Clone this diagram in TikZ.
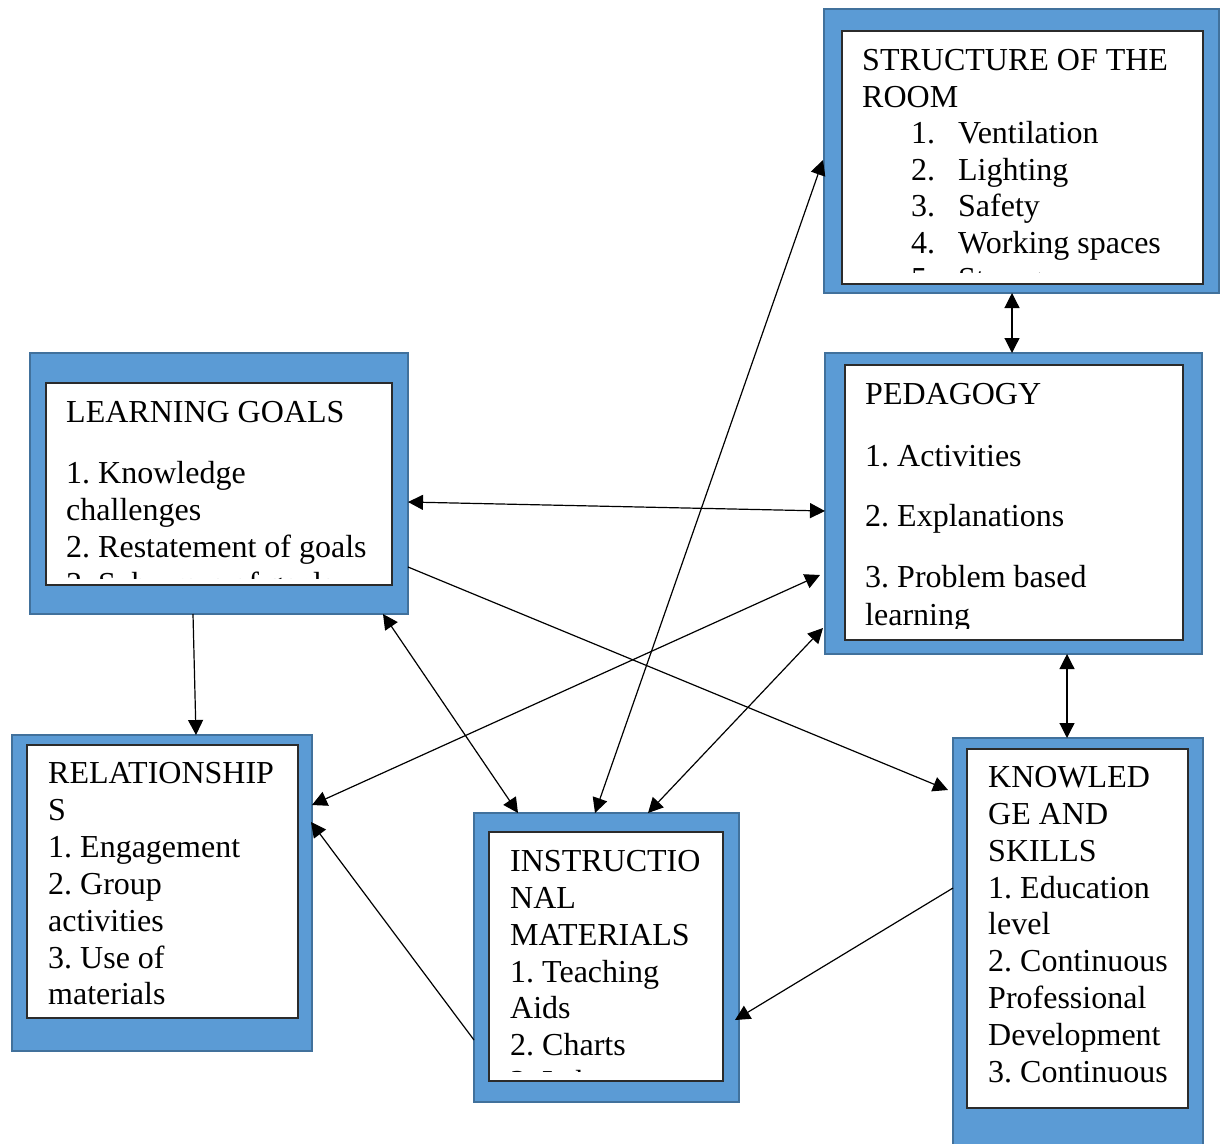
\documentclass[tikz,border=0pt]{standalone}
\usepackage{fontspec}
\setmainfont{Liberation Serif}
\usetikzlibrary{arrows.meta,calc}
\definecolor{boxblue}{HTML}{5B9BD5}
\definecolor{boxedge}{HTML}{41719C}
\definecolor{inedge}{HTML}{2B2B2B}
\newcommand\numit[2]{\makebox[47pt][l]{#1}#2}
\frenchspacing
\begin{document}
\begin{tikzpicture}[x=1pt,y=-1pt,
  outerbox/.style={draw=boxedge,line width=1.5pt,fill=boxblue,inner sep=0pt,outer sep=0pt},
  innerbox/.style={draw=inedge,line width=1.5pt,fill=white,inner sep=0pt,outer sep=0pt},
  lbl/.style={anchor=base west,inner sep=0pt,font=\fontsize{32}{36.5}\selectfont},
  conn/.style={line width=1.2pt,draw=black},
  tip/.tip={Triangle[length=15pt,width=15pt]},
  both/.style={conn,tip-tip},
  one/.style={conn,-tip}]
\useasboundingbox (0,0) rectangle (1225,1143);

% outer blue frames
\node[outerbox,minimum width=395pt,minimum height=284pt] (str) at (1021.5,151) {};
\node[outerbox,minimum width=377pt,minimum height=301pt] (ped) at (1013.5,503.5) {};
\node[outerbox,minimum width=378pt,minimum height=261pt] (lg)  at (219,483.5) {};
\node[outerbox,minimum width=300pt,minimum height=316pt] (rel) at (162,893) {};
\node[outerbox,minimum width=265pt,minimum height=289pt] (ins) at (606.5,957.5) {};
\node[outerbox,minimum width=250pt,minimum height=422pt] (kno) at (1078,949) {};

% inner white panels
\node[innerbox,minimum width=361pt,minimum height=253pt] (strin) at (1022.5,157.5) {};
\node[innerbox,minimum width=338pt,minimum height=275pt] (pedin) at (1014,502.5) {};
\node[innerbox,minimum width=346pt,minimum height=202pt] (lgin)  at (219,484) {};
\node[innerbox,minimum width=271pt,minimum height=273pt] (relin) at (162.5,881.5) {};
\node[innerbox,minimum width=234pt,minimum height=249pt] (insin) at (606,956.5) {};
\node[innerbox,minimum width=221pt,minimum height=359pt] (knoin) at (1077.5,928.5) {};

% texts
\begin{scope}
  \clip (strin.north west) rectangle ([yshift=12pt]strin.south east);
  \node[lbl] (s1) at (862,70.5) {STRUCTURE OF THE};
  \node[lbl] (s2) at (862,107) {ROOM};
  \foreach \lineY/\lineT [count=\i] in {143.5/{\numit{1.}{Ventilation}},180/{\numit{2.}{Lighting}},216.5/{\numit{3.}{Safety}},253/{\numit{4.}{Working spaces}},289.5/{\numit{5.}{Storage}}}
    \node[lbl] (sl\i) at (911,\lineY) {\lineT};
\end{scope}

\begin{scope}
  \clip (lgin.north west) rectangle ([yshift=7pt]lgin.south east);
  \foreach \lineY/\lineT [count=\i] in {422/LEARNING GOALS,483/1. Knowledge,520/challenges,557/2. Restatement of goals,594/3. Sub-areas of goals}
    \node[lbl] (lgl\i) at (66,\lineY) {\lineT};
\end{scope}

\begin{scope}
  \clip (pedin.north west) rectangle ([yshift=12pt]pedin.south east);
  \foreach \lineY/\lineT [count=\i] in {404/PEDAGOGY,466/1. Activities,526/2. Explanations,587/3. Problem based,625/learning}
    \node[lbl] (pl\i) at (865,\lineY) {\lineT};
\end{scope}

\begin{scope}
  \clip (relin.north west) rectangle (relin.south east);
  \foreach \lineY/\lineT [count=\i] in {783/RELATIONSHIP,820/S,857/1. Engagement,894/2. Group,931/activities,968/3. Use of,1004/materials}
    \node[lbl] (rl\i) at (48,\lineY) {\lineT};
\end{scope}

\begin{scope}
  \clip (insin.north west) rectangle ([yshift=10pt]insin.south east);
  \foreach \lineY/\lineT [count=\i] in {871/INSTRUCTIO,908/NAL,945/MATERIALS,982/1. Teaching,1018/Aids,1055/2. Charts,1092/3. Laboratory}
    \node[lbl] (il\i) at (510,\lineY) {\lineT};
\end{scope}

\begin{scope}
  \clip (knoin.north west) rectangle (knoin.south east);
  \foreach \lineY/\lineT [count=\i] in {787/KNOWLED,824/GE AND,861/SKILLS,898/1. Education,934/level,971/2. Continuous,1008/Professional,1045/Development,1082/3. Continuous}
    \node[lbl] (kl\i) at (988,\lineY) {\lineT};
\end{scope}

% connectors
\draw[both] ([xshift=-9.5pt]str.south) -- ([xshift=-1.5pt]ped.north);
\draw[both] ([yshift=-18.5pt]lg.east) -- ([yshift=-7.5pt]ped.west);
\draw[one]  ([yshift=-83.5pt]lg.east) -- ([xshift=-5pt,yshift=159pt]kno.west);
\draw[one]  ([xshift=-26pt]lg.south) -- ([xshift=34pt]rel.north);
\draw[both] ([xshift=164pt]lg.south) -- ([xshift=-88.5pt]ins.north);
\draw[both] ([xshift=-5pt,yshift=-71.5pt]ped.west) -- ([yshift=88pt]rel.east);
\draw[both] ([xshift=-1pt,yshift=-9pt]str.west) -- ([xshift=-11.5pt]ins.north);
\draw[both] ([xshift=-2pt,yshift=-124.5pt]ped.west) -- ([xshift=41.5pt]ins.north);
\draw[both] ([xshift=53.5pt]ped.south) -- ([xshift=-11pt]kno.north);
\draw[one]  ([yshift=61pt]kno.west) -- ([xshift=-4pt,yshift=-62.5pt]ins.east);
\draw[one]  ([yshift=-82.5pt]ins.west) -- ([xshift=-1pt,yshift=71pt]rel.east);
\end{tikzpicture}
\end{document}
